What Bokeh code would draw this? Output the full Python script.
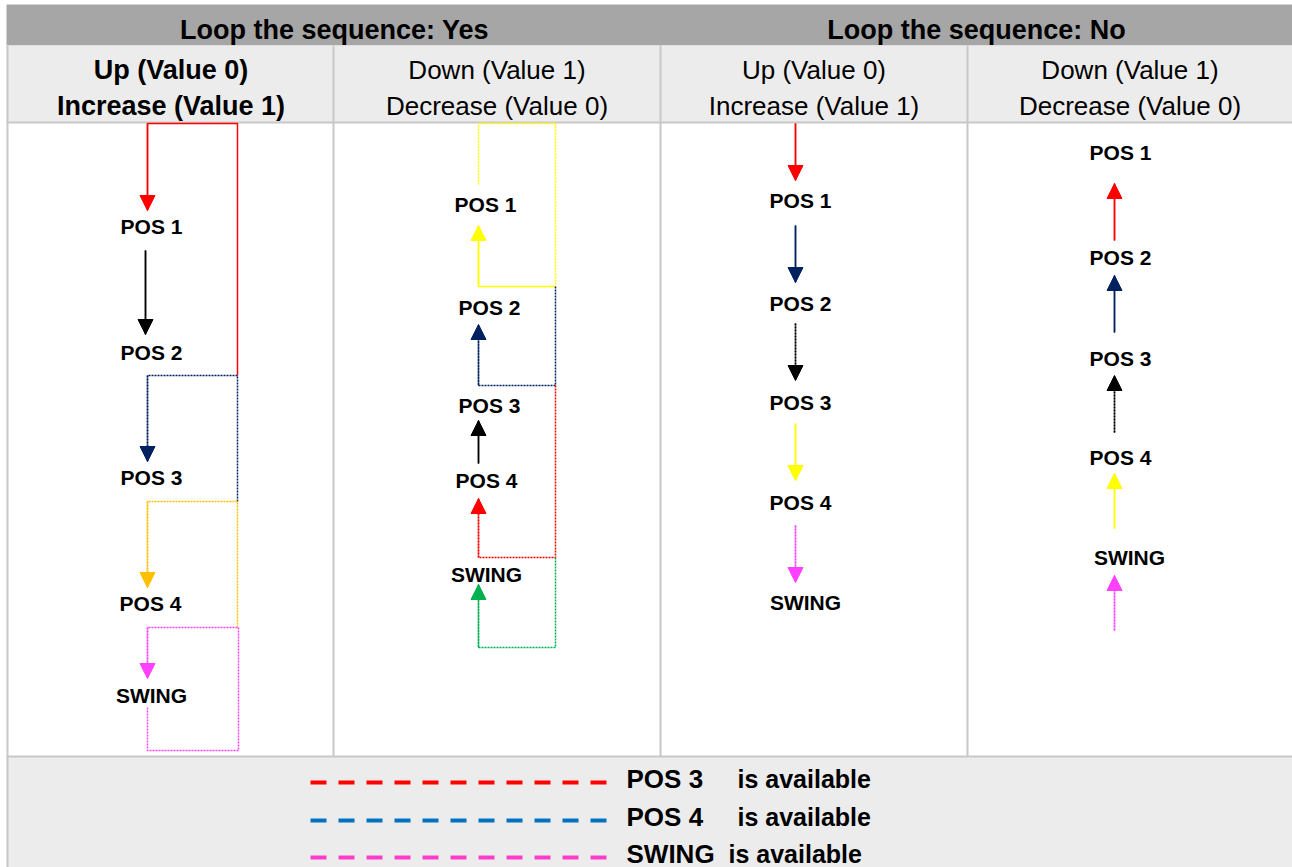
from bokeh.plotting import figure
from bokeh.models import Range1d, Arrow, NormalHead
from bokeh.core.properties import value
from bokeh.embed import file_html
from bokeh.resources import INLINE

FONT = "Liberation Sans"

# ---------------- content ----------------
group_titles = ["Loop the sequence: Yes", "Loop the sequence: No"]
sub_line1 = ["Up (Value 0)", "Down (Value 1)", "Up (Value 0)", "Down (Value 1)"]
sub_line2 = ["Increase (Value 1)", "Decrease (Value 0)", "Increase (Value 1)", "Decrease (Value 0)"]
sub_bold = [True, False, False, False]
step_labels = ["POS 1", "POS 2", "POS 3", "POS 4", "SWING"]
legend_names = ["POS 3", "POS 4", "SWING"]
legend_suffix = "is available"
legend_colors = ["#ff0000", "#0070c0", "#ff3ccc"]

# ---------------- layout (reference pixel space) ----------------
W, H = 1292, 867
col_edges = [8, 333, 660, 967, 1292]
col_centers = [(a + b) / 2 for a, b in zip(col_edges[:-1], col_edges[1:])]
group_edges = [(8, 660), (660, 1292)]

# step label positions per column
label_x = [[151, 151, 151, 150, 151],
           [485, 489, 489, 486, 486],
           [800, 800, 800, 800, 805],
           [1120, 1120, 1120, 1120, 1129]]
label_y = [[226, 352, 477, 603, 695],
           [204, 307, 405, 480, 574],
           [200, 303, 402, 502, 602],
           [152, 257, 358, 457, 557]]

RED, NAVY, BLK, ORG, YEL, MAG, GRN = "#ff0000", "#002060", "#000000", "#ffc000", "#ffff00", "#ff40ff", "#00b050"
SOLID, DOT = "solid", "2 1"

# flows: (color, dash, xs, ys, head) - arrow head at last point when head is True
flows = [
    # column 1 : loop yes / up
    (RED, SOLID, [237, 237, 147, 147], [375, 123, 123, 210], True),
    (BLK, SOLID, [145, 145], [250, 334], True),
    (NAVY, DOT, [237, 237, 147, 147], [501, 375, 375, 461], True),
    (ORG, DOT, [237, 237, 147, 147], [627, 501, 501, 587], True),
    (MAG, DOT, [147, 147, 238, 238, 147, 147], [707, 750, 750, 627, 627, 678], True),
    # column 2 : loop yes / down
    (YEL, DOT, [478, 478, 555, 555], [184, 123, 123, 286], False),
    (YEL, SOLID, [555, 478, 478], [286, 286, 225], True),
    (NAVY, DOT, [555, 555, 478, 478], [286, 385, 385, 324], True),
    (BLK, SOLID, [478, 478], [463, 420], True),
    (RED, DOT, [555, 555, 478, 478], [385, 557, 557, 498], True),
    (GRN, DOT, [555, 555, 478, 478], [557, 647, 647, 584], True),
    # column 3 : loop no / up
    (RED, SOLID, [795, 795], [123, 180], True),
    (NAVY, SOLID, [795, 795], [225, 282], True),
    (BLK, DOT, [795, 795], [323, 380], True),
    (YEL, SOLID, [795, 795], [423, 480], True),
    (MAG, DOT, [795, 795], [525, 582], True),
    # column 4 : loop no / down
    (RED, SOLID, [1114, 1114], [240, 183], True),
    (NAVY, SOLID, [1114, 1114], [332, 275], True),
    (BLK, DOT, [1114, 1114], [432, 375], True),
    (YEL, SOLID, [1114, 1114], [528, 473], True),
    (MAG, DOT, [1114, 1114], [630, 575], True),
]

p = figure(width=W, height=H, output_backend="svg", toolbar_location=None,
           x_axis_type=None, y_axis_type=None, min_border=0,
           x_range=Range1d(0, W), y_range=Range1d(H, 0))
p.outline_line_color = None
p.background_fill_color = "white"
p.border_fill_color = "white"
p.grid.visible = False

# bands
p.quad(left=[6, 6, 6], right=[1292, 1292, 1292], top=[4, 45, 756], bottom=[45, 122, 880],
       fill_color=["#a6a6a6", "#ececec", "#ececec"], line_color=None)

# table lines
GRID = "#c8c8c8"
p.multi_line(xs=[[333, 333], [660, 660], [967, 967], [6, 1292], [6, 1292], [7, 7]],
             ys=[[45, 756], [45, 756], [45, 756], [122, 122], [756, 756], [45, 880]],
             line_color=GRID, line_width=2)

# header texts
p.text(x=[(a + b) / 2 for a, b in group_edges], y=[29, 29], text=group_titles,
       text_font=value(FONT), text_font_size="27px", text_font_style="bold",
       text_align="center", text_baseline="middle", text_color="black")
for i in range(4):
    p.text(x=[col_centers[i], col_centers[i]], y=[69, 105], text=[sub_line1[i], sub_line2[i]],
           text_font=value(FONT), text_font_size="27px" if sub_bold[i] else "26px",
           text_font_style="bold" if sub_bold[i] else "normal",
           text_align="center", text_baseline="middle", text_color="black")

# flows
for color, dash, xs, ys, head in flows:
    p.line(xs, ys, line_color=color, line_width=1.5, line_dash=dash)
    if head:
        p.add_layout(Arrow(end=NormalHead(size=15, fill_color=color, line_color=color, line_width=1),
                           x_start=xs[-2], y_start=ys[-2], x_end=xs[-1], y_end=ys[-1],
                           line_color=color, line_width=1.5, line_dash=dash))

# step labels
for i in range(4):
    p.text(x=label_x[i], y=label_y[i], text=step_labels,
           text_font=value(FONT), text_font_size="21px", text_font_style="bold",
           text_align="center", text_baseline="middle", text_color="black")

# legend
leg_y = [782, 820, 857]
for k in range(3):
    p.line([310, 606], [leg_y[k], leg_y[k]], line_color=legend_colors[k], line_width=4, line_dash="16 12")
p.text(x=[626, 626, 626], y=[y - 4 for y in leg_y], text=legend_names,
       text_font=value(FONT), text_font_size="26px", text_font_style="bold",
       text_align="left", text_baseline="middle", text_color="black")
p.text(x=[737, 737, 728], y=[y - 4 for y in leg_y], text=[legend_suffix] * 3,
       text_font=value(FONT), text_font_size="25px", text_font_style="bold",
       text_align="left", text_baseline="middle", text_color="black")

open("out.html", "w").write(file_html(p, INLINE))
